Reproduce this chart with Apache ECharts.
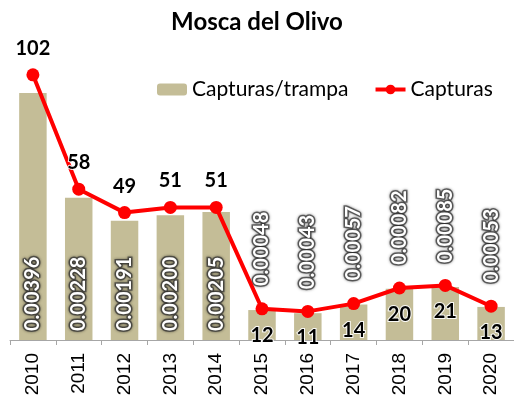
<!DOCTYPE html>
<html>
<head>
<meta charset="utf-8">
<script src="https://cdn.jsdelivr.net/npm/echarts@6/dist/echarts.min.js"></script>
<style>
  html, body { margin: 0; padding: 0; background: #fff; }
  #chart { width: 514px; height: 404px; }
</style>
</head>
<body>
<div id="chart"></div>
<script>
// datos
const years = ["2010", "2011", "2012", "2013", "2014", "2015", "2016", "2017", "2018", "2019", "2020"];
const capturasTrampa = [0.00396, 0.00228, 0.00191, 0.00200, 0.00205, 0.00048, 0.00043, 0.00057, 0.00082, 0.00085, 0.00053];
const capturas = [102, 58, 49, 51, 51, 12, 11, 14, 20, 21, 13];
// etiquetas de la linea: arriba en los primeros años, abajo despues
const lineLabelPos = ["top", "top", "top", "top", "top", "bottom", "bottom", "bottom", "bottom", "bottom", "bottom"];

let chart = echarts.init(document.getElementById("chart"));
const fontFam = "Lato";

let barData = capturasTrampa.map((v, i) => {
    let inside = v > 0.0015;
    return {
        value: v,
        label: {
            position: inside ? "insideBottom" : "top",
            distance: inside ? 9 : 24
        }
    };
});

let lineData = capturas.map((v, i) => {
    return {
        value: v,
        label: {
            position: lineLabelPos[i],
            distance: 10
        }
    };
});

let option = {
    animation: false,
    title: {
        text: "Mosca del Olivo",
        left: "center",
        top: 5,
        textStyle: {
            fontFamily: fontFam,
            fontWeight: "bold",
            fontSize: 24,
            color: "#000"
        }
    },
    legend: {
        top: 74,
        left: 152,
        itemWidth: 30,
        itemHeight: 12,
        itemGap: 25,
        lineStyle: { width: 4 },
        textStyle: {
            fontFamily: fontFam,
            fontSize: 21,
            color: "#000"
        },
        data: ["Capturas/trampa", "Capturas"]
    },
    grid: {
        left: 10,
        right: -4,
        top: 28,
        bottom: 64
    },
    xAxis: {
        type: "category",
        data: years,
        axisLine: { lineStyle: { color: "#a6a6a6", width: 1 } },
        axisTick: { show: true, length: 5, lineStyle: { color: "#a6a6a6" } },
        axisLabel: {
            rotate: 90,
            margin: 13,
            fontFamily: "Liberation Sans",
            fontSize: 19,
            color: "#000"
        }
    },
    yAxis: [
        { type: "value", min: 0, max: 0.005, show: false, splitLine: { show: false } },
        { type: "value", min: 0, max: 120, show: false, splitLine: { show: false } }
    ],
    series: [
        {
            name: "Capturas/trampa",
            type: "bar",
            yAxisIndex: 0,
            barWidth: "60%",
            itemStyle: { color: "#c4bd97" },
            data: barData,
            label: {
                show: true,
                rotate: 90,
                align: "left",
                verticalAlign: "middle",
                formatter: p => p.value.toFixed(5),
                fontFamily: fontFam,
                fontWeight: "bold",
                fontSize: 20,
                color: "#fff",
                textBorderColor: "rgba(60,60,60,0.7)",
                textBorderWidth: 3,
                textShadowColor: "rgba(0,0,0,0.5)",
                textShadowBlur: 3
            },
            z: 1
        },
        {
            name: "Capturas",
            type: "line",
            yAxisIndex: 1,
            data: lineData,
            symbol: "circle",
            symbolSize: 13,
            lineStyle: { color: "#ff0000", width: 4 },
            itemStyle: { color: "#ff0000" },
            label: {
                show: true,
                fontFamily: fontFam,
                fontWeight: "bold",
                fontSize: 20,
                color: "#000",
                textBorderColor: "rgba(255,255,255,0.9)",
                textBorderWidth: 2
            },
            z: 3
        }
    ]
};
chart.setOption(option, true);
</script>
</body>
</html>
